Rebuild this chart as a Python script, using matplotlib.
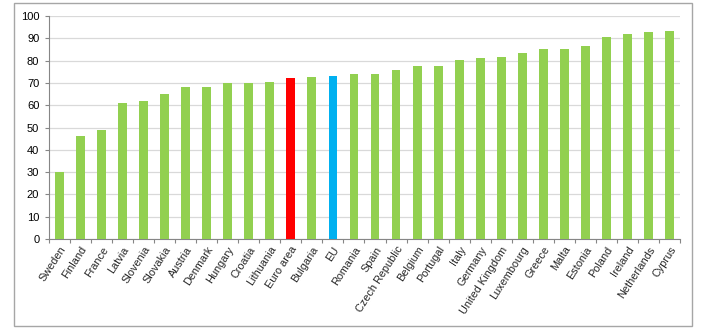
import numpy as np
import matplotlib.pyplot as plt
from matplotlib.patches import Rectangle

countries = ["Sweden", "Finland", "France", "Latvia", "Slovenia", "Slovakia",
             "Austria", "Denmark", "Hungary", "Croatia", "Lithuania", "Euro area",
             "Bulgaria", "EU", "Romania", "Spain", "Czech Republic", "Belgium",
             "Portugal", "Italy", "Germany", "United Kingdom", "Luxembourg",
             "Greece", "Malta", "Estonia", "Poland", "Ireland", "Netherlands", "Cyprus"]
values = [30.0, 46.0, 48.7, 61.0, 61.7, 64.9, 68.2, 68.2, 69.8, 70.0, 70.4, 72.2,
          72.5, 73.1, 74.0, 74.0, 75.8, 77.4, 77.4, 80.4, 81.3, 81.6, 83.6,
          85.1, 85.2, 86.7, 90.4, 91.9, 92.8, 93.4]
yticks = list(range(0, 101, 10))

green = "#92D050"
special = {"Euro area": "#FF0000", "EU": "#00B0F0"}
colors = [special.get(c, green) for c in countries]

plt.rcParams['font.family'] = ['Liberation Sans', 'DejaVu Sans']

fig = plt.figure(figsize=(7.08, 3.32), dpi=100)
ax = fig.add_axes([49/708, 1-239/332, 631/708, 223/332])

x = np.arange(len(countries))
ax.bar(x, values, width=0.42, color=colors, zorder=3)

ax.set_xlim(-0.5, len(countries) - 0.5)
ax.set_ylim(0, 100)
ax.set_yticks(yticks)
ax.tick_params(axis='y', labelsize=8, length=3, color="#868686", pad=4)
ax.yaxis.grid(True, color="#D9D9D9", linewidth=0.9, zorder=0)

# tick marks between categories, labels under each bar
ax.set_xticks(np.arange(-0.5, len(countries)), minor=False)
ax.set_xticklabels([])
ax.tick_params(axis='x', which='major', length=3, color="#868686")
ax.set_xticks(x, minor=True)
ax.set_xticklabels(countries, minor=True, rotation=57, ha='right',
                   rotation_mode='anchor', fontsize=7.8, color="#262626")
ax.tick_params(axis='x', which='minor', length=0, pad=4)

for s in ['top', 'right']:
    ax.spines[s].set_visible(False)
for s in ['left', 'bottom']:
    ax.spines[s].set_color("#868686")

fig.patches.append(Rectangle((14/708, 1-326/332), 678/708, 323/332,
                             transform=fig.transFigure, fill=False,
                             edgecolor="#A6A6A6", linewidth=1))

fig.savefig("out.png", dpi=100)
